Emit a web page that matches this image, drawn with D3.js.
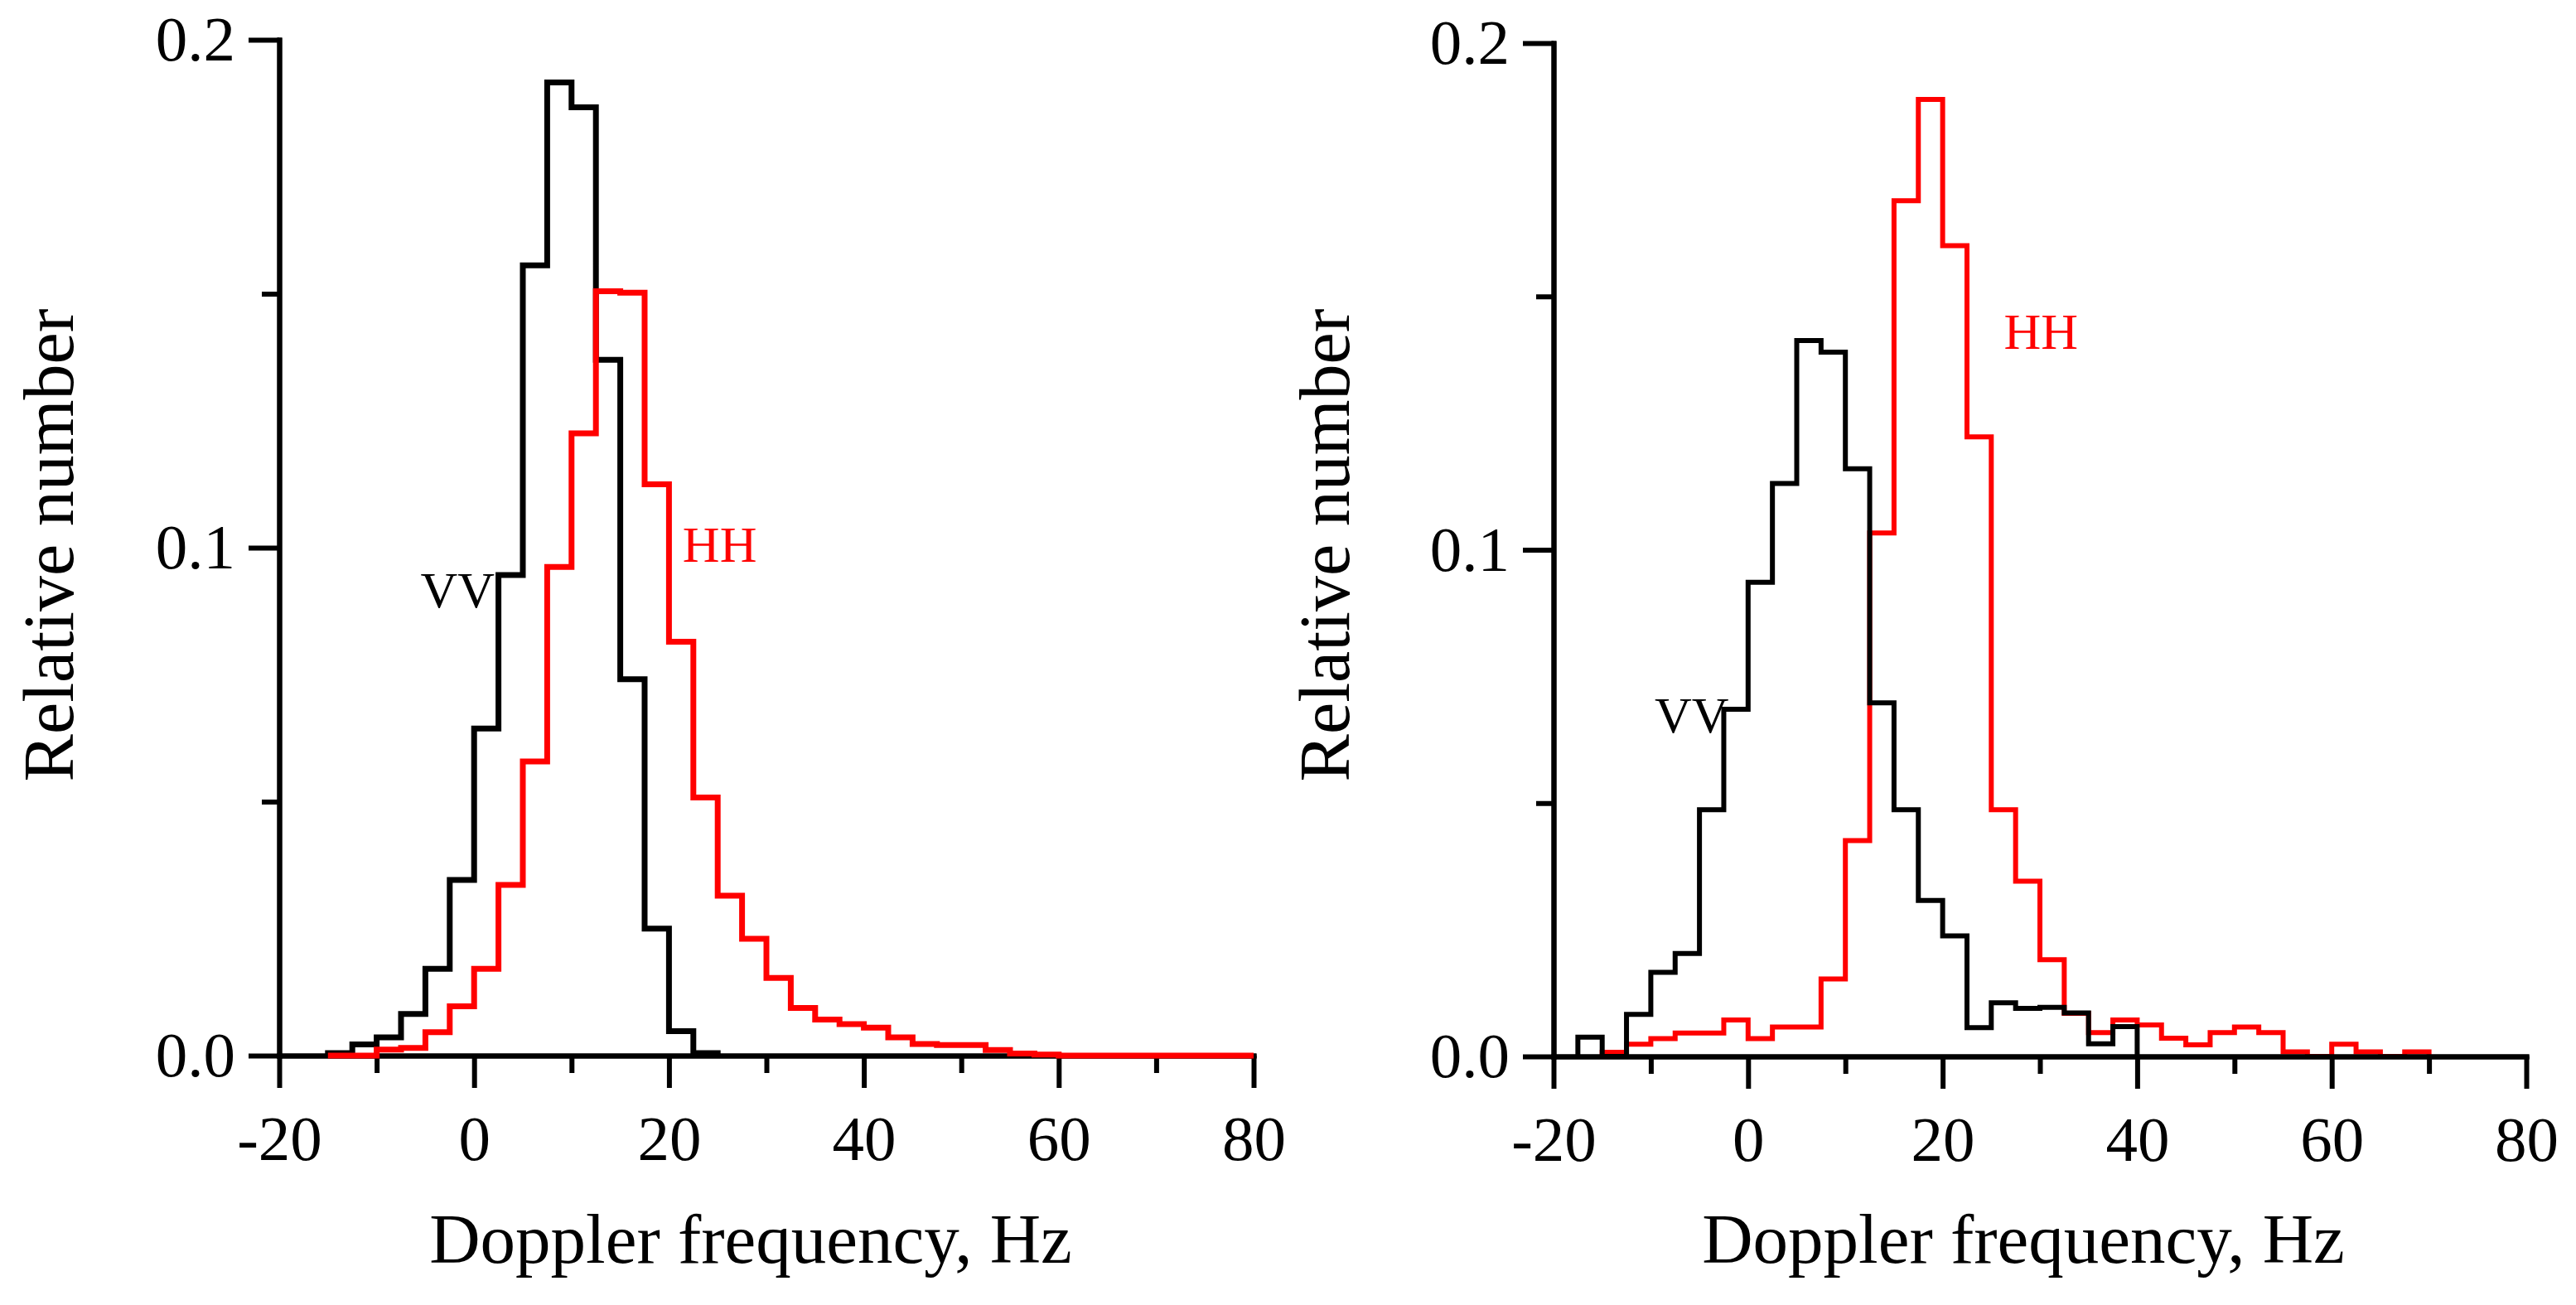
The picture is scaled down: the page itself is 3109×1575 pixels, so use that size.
<!DOCTYPE html>
<html>
<head>
<meta charset="utf-8">
<script src="https://cdn.jsdelivr.net/npm/d3@7"></script>
<style>
  body { margin: 0; background: #fff; }
  svg { display: block; }
</style>
</head>
<body>
<div id="grafica"></div>
<script>
// bin width of the histograms, Hz
const binWidth = 2.5

// left panel: left edges of the bins and relative numbers
const leftBins = [-15, -12.5, -10, -7.5, -5, -2.5, 0, 2.5, 5, 7.5, 10, 12.5, 15, 17.5, 20, 22.5,
    25, 27.5, 30, 32.5, 35, 37.5, 40, 42.5, 45, 47.5, 50, 52.5, 55, 57.5, 60, 62.5, 65, 67.5, 70, 72.5, 75, 77.5]
const leftVV = [0.0005, 0.0022, 0.0036, 0.0082, 0.0171, 0.0346, 0.0644, 0.0946, 0.1556, 0.1916, 0.1867, 0.137,
    0.0741, 0.025, 0.0048, 0.0005]
const leftHH = [0, 0, 0.0012, 0.0015, 0.0046, 0.0097, 0.0171, 0.0336, 0.0579, 0.0962, 0.1225, 0.1505, 0.1502,
    0.1125, 0.0815, 0.0508, 0.0315, 0.023, 0.0153, 0.0094, 0.0071, 0.0062, 0.0055, 0.0036, 0.0023, 0.0021,
    0.0021, 0.0011, 0.0004, 0.0002, 0, 0, 0, 0, 0, 0, 0, 0]

// right panel
const rightBinsVV = [-17.5, -15, -12.5, -10, -7.5, -5, -2.5, 0, 2.5, 5, 7.5, 10, 12.5, 15, 17.5, 20, 22.5,
    25, 27.5, 30, 32.5, 35, 37.5]
const rightVV = [0.0038, 0, 0.0083, 0.0166, 0.0203, 0.0487, 0.0685, 0.0936, 0.1131, 0.1413, 0.139, 0.116,
    0.0698, 0.0487, 0.0308, 0.0238, 0.0057, 0.0106, 0.0095, 0.0097, 0.0086, 0.0025, 0.0059]
const rightBinsHH = [-15, -12.5, -10, -7.5, -5, -2.5, 0, 2.5, 5, 7.5, 10, 12.5, 15, 17.5, 20, 22.5, 25, 27.5,
    30, 32.5, 35, 37.5, 40, 42.5, 45, 47.5, 50, 52.5, 55, 57.5, 60, 62.5, 65, 67.5]
const rightHH = [0.0008, 0.0024, 0.0035, 0.0046, 0.0046, 0.0072, 0.0035, 0.0058, 0.0058, 0.0153, 0.0426,
    0.1033, 0.1689, 0.1889, 0.16, 0.1223, 0.0487, 0.0346, 0.0191, 0.0085, 0.0047, 0.0072, 0.0062, 0.0036,
    0.0023, 0.0047, 0.0058, 0.0047, 0.0009, 0, 0.0024, 0.0009, 0, 0.0009]

// ticks
const xMajorTicks = [-20, 0, 20, 40, 60, 80]
const xMinorTicks = [-10, 10, 30, 50, 70]
const yMajorTicks = [0, 0.1, 0.2]
const yMinorTicks = [0.05, 0.15]

const xTitle = 'Doppler frequency, Hz'
const yTitle = 'Relative number'

const svgWidth = 3109
const svgHeight = 1575

const svg = d3.select('#grafica')
    .append('svg')
    .attr('width', svgWidth)
    .attr('height', svgHeight)

const serif = '"Liberation Serif", "Times New Roman", serif'

// turn bins + values into step points, starting and ending on the baseline
function steps(bins, values) {
    const pts = [{ f: bins[0], v: 0 }]
    values.forEach((v, i) => pts.push({ f: bins[i], v: v }))
    pts.push({ f: bins[values.length - 1] + binWidth, v: 0 })
    return pts
}

// plain hyphen for negatives, like the original figure
const fmtX = d => String(d)

function drawPanel(p) {
    const scaleX = d3.scaleLinear().domain([-20, 80]).range([p.x0, p.x1])
    const scaleY = d3.scaleLinear().domain([0, 0.2]).range([p.y0, p.y1])

    const line = d3.line()
        .x(d => scaleX(d.f))
        .y(d => scaleY(d.v))
        .curve(d3.curveStepAfter)

    const g = svg.append('g')

    const axes = g.append('g')
    const marks = g.append('g')
    if (p.axisOnTop) axes.raise()

    // axes: major ticks with labels, minor ticks without
    const styleAxis = sel => {
        sel.select('.domain').attr('stroke-width', 6)
        sel.selectAll('.tick line').attr('stroke-width', 6)
        sel.selectAll('.tick text')
            .style('font-family', serif)
            .style('font-size', '77px')
            .attr('fill', '#000')
    }

    axes.append('g')
        .attr('transform', `translate(0,${p.y0})`)
        .call(d3.axisBottom(scaleX).tickValues(xMinorTicks).tickSize(21).tickSizeOuter(0).tickFormat(''))
        .call(styleAxis)
    axes.append('g')
        .attr('transform', `translate(0,${p.y0})`)
        .call(d3.axisBottom(scaleX).tickValues(xMajorTicks).tickSize(39).tickSizeOuter(0).tickPadding(32)
            .tickFormat(fmtX))
        .call(styleAxis)
    axes.append('g')
        .attr('transform', `translate(${p.x0},0)`)
        .call(d3.axisLeft(scaleY).tickValues(yMinorTicks).tickSize(21).tickSizeOuter(0).tickFormat(''))
        .call(styleAxis)
    axes.append('g')
        .attr('transform', `translate(${p.x0},0)`)
        .call(d3.axisLeft(scaleY).tickValues(yMajorTicks).tickSize(37).tickSizeOuter(0).tickPadding(16)
            .tickFormat(d3.format('.1f')))
        .call(styleAxis)
    axes.selectAll('.domain').attr('stroke-linecap', 'square')

    // histograms
    marks.selectAll('.hist')
        .data(p.series)
        .enter()
        .append('path')
        .attr('class', 'hist')
        .attr('d', d => line(steps(d.bins, d.values)))
        .attr('fill', 'none')
        .attr('stroke', d => d.color)
        .attr('stroke-width', p.lineWidth)
        .attr('stroke-linejoin', 'miter')

    // series labels
    marks.selectAll('.lab')
        .data(p.series)
        .enter()
        .append('text')
        .attr('class', 'lab')
        .attr('x', d => scaleX(d.labelAt[0]))
        .attr('y', d => scaleY(d.labelAt[1]))
        .attr('fill', d => d.color)
        .style('font-family', serif)
        .style('font-size', '62px')
        .text(d => d.name)

    // axis titles
    g.append('text')
        .attr('x', (p.x0 + p.x1) / 2 + p.titleShift)
        .attr('y', 1524)
        .attr('text-anchor', 'middle')
        .style('font-family', serif)
        .style('font-size', '85px')
        .text(xTitle)

    g.append('text')
        .attr('transform', `translate(${p.yTitleX},658) rotate(-90)`)
        .attr('text-anchor', 'middle')
        .style('font-family', serif)
        .style('font-size', '86px')
        .text(yTitle)
}

drawPanel({
    x0: 337, x1: 1513, y0: 1274, y1: 48,
    yTitleX: 88, titleShift: -19, axisOnTop: false, lineWidth: 7,
    series: [
        { name: 'VV', color: '#000', bins: leftBins, values: leftVV, labelAt: [-5.5, 0.0883] },
        { name: 'HH', color: '#ff0000', bins: leftBins, values: leftHH, labelAt: [21.4, 0.0972] }
    ]
})

drawPanel({
    x0: 1875, x1: 3049, y0: 1275, y1: 52,
    yTitleX: 1628, titleShift: -20, axisOnTop: true, lineWidth: 6,
    series: [
        { name: 'HH', color: '#ff0000', bins: rightBinsHH, values: rightHH, labelAt: [26.3, 0.1396] },
        { name: 'VV', color: '#000', bins: rightBinsVV, values: rightVV, labelAt: [-9.6, 0.064] }
    ]
})
</script>
</body>
</html>
